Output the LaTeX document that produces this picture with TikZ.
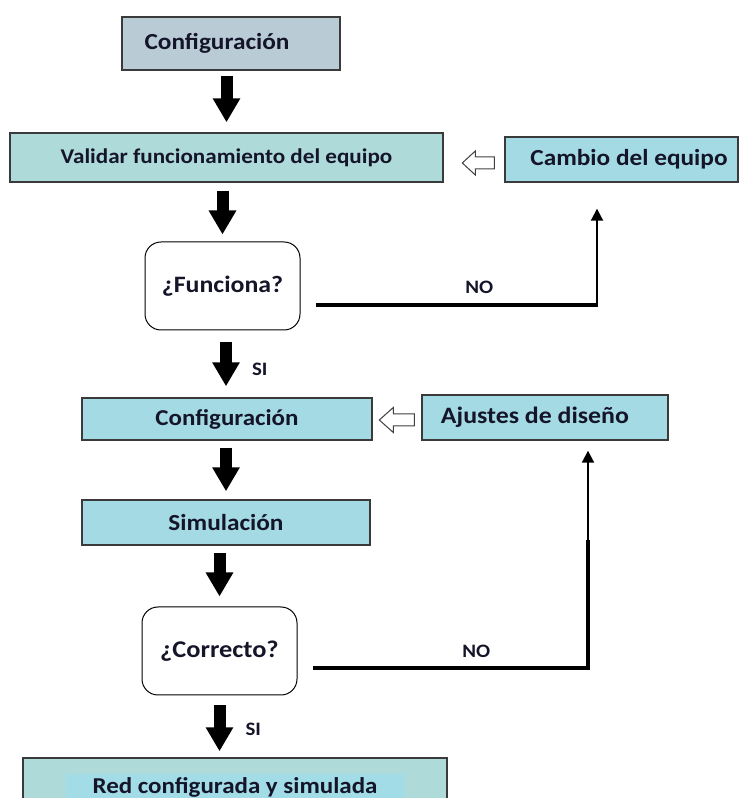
\documentclass[tikz,border=0pt]{standalone}
\usepackage{fontspec}
\setmainfont[FakeStretch=1.1]{Carlito}
\usetikzlibrary{arrows.meta}

\definecolor{ink}{HTML}{15152A}
\definecolor{boxline}{HTML}{3A3A3A}
\definecolor{topfill}{HTML}{B9CCD6}
\definecolor{tealfill}{HTML}{AEDADA}
\definecolor{bluefill}{HTML}{A4DAE4}
\definecolor{hilite}{HTML}{A2DCE6}

\newcommand{\fsz}[1]{\bfseries\fontsize{#1}{#1}\selectfont}

\begin{document}
\begin{tikzpicture}[x=1pt,y=1pt,
  flowbox/.style={draw=boxline, line width=1.4pt, inner sep=0pt, align=center,
    text=ink, font=\fsz{23}},
  decision/.style={draw=black, line width=1pt, rounded corners=16pt, fill=white,
    minimum width=155pt, minimum height=88pt, inner sep=0pt, text=ink,
    font=\fsz{23.5}},
  blockarrow/.style={draw=black, line width=12pt,
    -{Triangle[width=26pt,length=24pt]}},
  hollowarrow/.style={draw=black!75, line width=1pt, fill=white, line join=miter},
  loopline/.style={draw=black, line width=3.6pt},
  looparrow/.style={draw=black, line width=2pt, -{Triangle[width=12pt,length=12pt]}},
  tag/.style={inner sep=0pt, text=ink, font=\fsz{19}}
]
\clip (0,0) rectangle (744,798);
\useasboundingbox (0,0) rectangle (744,798);

% main column
\node[flowbox, fill=topfill, minimum width=218pt, minimum height=53pt,
  font=\fsz{23}] (conf1) at (231,754.5) {Configuración\hspace{28pt}};
\node[flowbox, fill=tealfill, minimum width=433pt, minimum height=49pt,
  font=\fsz{21}] (valid) at (226.5,640.5) {Validar funcionamiento del equipo};
\node[decision] (fun) at (222.5,512) {¿Funciona?};
\node[flowbox, fill=bluefill, minimum width=290pt, minimum height=42pt,
  font=\fsz{22.7}] (conf2) at (227,379) {Configuración};
\node[flowbox, fill=bluefill, minimum width=288pt, minimum height=45pt,
  font=\fsz{23}] (simul) at (226,275.5) {Simulación};
\node[decision, font=\fsz{24}] (corr) at (219.5,147) {¿Correcto?};
\node[flowbox, fill=tealfill, minimum width=424pt, minimum height=58pt,
  font=\fsz{22.7}] (red) at (235,11)
  {\setlength{\fboxsep}{3pt}\colorbox{hilite}{\hspace{24pt}Red configurada y simulada\hspace{24pt}}};

% side boxes
\node[flowbox, fill=bluefill, minimum width=233pt, minimum height=45pt,
  font=\fsz{23}] (cambio) at (621.5,638.5) {\hspace{15pt}Cambio del equipo};
\node[flowbox, fill=bluefill, minimum width=246pt, minimum height=45pt,
  font=\fsz{23.5}] (ajustes) at (545,380.5) {Ajustes de diseño\hspace{20pt}};

% downward block arrows
\draw[blockarrow, shorten <=5pt, shorten >=10pt] (valid.north |- conf1.south) -- (valid.north);
\draw[blockarrow, shorten <=8pt, shorten >=7pt] (valid.south -| fun.north) -- (fun.north);
\draw[blockarrow, shorten <=12pt, shorten >=11pt] (fun.south -| 226,0) -- (conf2.north -| 226,0)
  node[tag, pos=0.58, anchor=west, xshift=20pt] {SI};
\draw[blockarrow, shorten <=7pt, shorten >=8pt] (simul.north |- conf2.south) -- (simul.north);
\draw[blockarrow, shorten <=7pt, shorten >=10pt] (simul.south -| corr.north) -- (corr.north);
\draw[blockarrow, shorten <=10pt, shorten >=6pt] (corr.south) -- (corr.south |- red.north)
  node[tag, pos=0.55, anchor=west, xshift=20pt] {SI};

% hollow arrows from the side boxes
\draw[hollowarrow] ([xshift=-10pt,yshift=-3.5pt]cambio.west) -- ++(0,6) -- ++(-19,0) -- ++(0,6)
  -- ++(-13,-12) -- ++(13,-12) -- ++(0,6) -- ++(19,0) -- cycle;
\draw[hollowarrow] ([xshift=-7pt,yshift=-2.5pt]ajustes.west) -- ++(0,6) -- ++(-21,0) -- ++(0,6.5)
  -- ++(-14,-12.5) -- ++(14,-12.5) -- ++(0,6.5) -- ++(21,0) -- cycle;

% NO branch of the first decision
\coordinate (turn1) at (597,493);
\draw[loopline] ([xshift=15pt,yshift=-19pt]fun.east) -- ([xshift=1pt]turn1)
  node[tag, pos=0.58, anchor=south, yshift=10pt] {NO};
\draw[looparrow, shorten >=26pt] (turn1) -- (cambio.south -| turn1);

% NO branch of the second decision
\coordinate (turn2) at (588,130);
\coordinate (thin2) at (588,258);
\draw[loopline] ([xshift=15pt,yshift=-17pt]corr.east) -- ([xshift=2pt]turn2)
  node[tag, pos=0.59, anchor=south, yshift=9pt] {NO};
\draw[draw=black, line width=4.5pt] ([yshift=-1.8pt]turn2) -- (thin2);
\draw[looparrow, shorten >=10pt] (thin2) -- (ajustes.south -| thin2);
\end{tikzpicture}
\end{document}
